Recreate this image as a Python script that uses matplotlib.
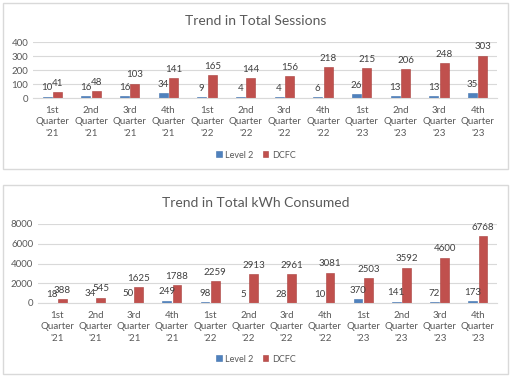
import matplotlib
matplotlib.use('Agg')
import matplotlib.pyplot as plt
import numpy as np
from matplotlib.patches import Rectangle

plt.rcParams['font.family'] = ['Lato', 'DejaVu Sans']

quarters = ["1st\nQuarter\n'21", "2nd\nQuarter\n'21", "3rd\nQuarter\n'21", "4th\nQuarter\n'21",
            "1st\nQuarter\n'22", "2nd\nQuarter\n'22", "3rd\nQuarter\n'22", "4th\nQuarter\n'22",
            "1st\nQuarter\n'23", "2nd\nQuarter\n'23", "3rd\nQuarter\n'23", "4th\nQuarter\n'23"]

sessions_l2 = [10, 16, 16, 34, 9, 4, 4, 6, 26, 13, 13, 35]
sessions_dcfc = [41, 48, 103, 141, 165, 144, 156, 218, 215, 206, 248, 303]

kwh_l2 = [18, 34, 50, 249, 98, 5, 28, 10, 370, 141, 72, 173]
kwh_dcfc = [388, 545, 1625, 1788, 2259, 2913, 2961, 3081, 2503, 3592, 4600, 6768]

blue = '#4F81BD'
red = '#C0504D'
txt = '#595959'
W, H = 512, 379

fig = plt.figure(figsize=(W / 100, H / 100), dpi=100)

# panel frames
for top, bot in [(3, 169), (185, 374)]:
    fig.add_artist(Rectangle((3 / W, 1 - bot / H), 505 / W, (bot - top) / H,
                             transform=fig.transFigure, fill=False,
                             edgecolor='#D9D9D9', lw=1))


def draw(ax, l2, dcfc, ymax, step, title, title_y, legend_y):
    x = np.arange(len(quarters))
    w = 0.23
    b1 = ax.bar(x - 0.135, l2, w, color=blue, edgecolor='#4272AE', lw=0.4)
    b2 = ax.bar(x + 0.135, dcfc, w, color=red, edgecolor='#A8403D', lw=0.4)
    for bars in (b1, b2):
        for r in bars:
            ax.annotate(f'{int(r.get_height())}', (r.get_x() + r.get_width() / 2, r.get_height()),
                        xytext=(0, 3), textcoords='offset points', ha='center', va='bottom',
                        fontsize=7, color='#404040')
    ax.set_xlim(-0.5, len(quarters) - 0.5)
    ax.set_ylim(0, ymax)
    ax.set_yticks(np.arange(0, ymax + 1, step))
    ax.set_xticks(x)
    ax.set_xticklabels(quarters, fontsize=7, color=txt, linespacing=1.3)
    ax.tick_params(axis='both', length=0, labelsize=7, colors=txt)
    ax.tick_params(axis='x', pad=6)
    ax.grid(axis='y', color='#D9D9D9', lw=0.8)
    ax.set_axisbelow(True)
    for s in ['top', 'right', 'left']:
        ax.spines[s].set_visible(False)
    ax.spines['bottom'].set_color('#D9D9D9')
    fig.text(0.5, 1 - title_y / H, title, ha='center', va='center', fontsize=10, color=txt)
    fig.legend([b1, b2], ['Level 2', 'DCFC'], loc='center', bbox_to_anchor=(0.5, 1 - legend_y / H),
               ncol=2, frameon=False, fontsize=6.5, labelcolor=txt, handlelength=0.6,
               handleheight=0.6, columnspacing=1.0, handletextpad=0.4)


ax1 = fig.add_axes([33 / W, 1 - 98 / H, 464 / W, 56 / H])
draw(ax1, sessions_l2, sessions_dcfc, 400, 100, 'Trend in Total Sessions', 21, 155)

ax2 = fig.add_axes([38 / W, 1 - 303 / H, 459 / W, 79 / H])
draw(ax2, kwh_l2, kwh_dcfc, 8000, 2000, 'Trend in Total kWh Consumed', 203, 359)

fig.savefig('out.png', dpi=100, facecolor='white')
